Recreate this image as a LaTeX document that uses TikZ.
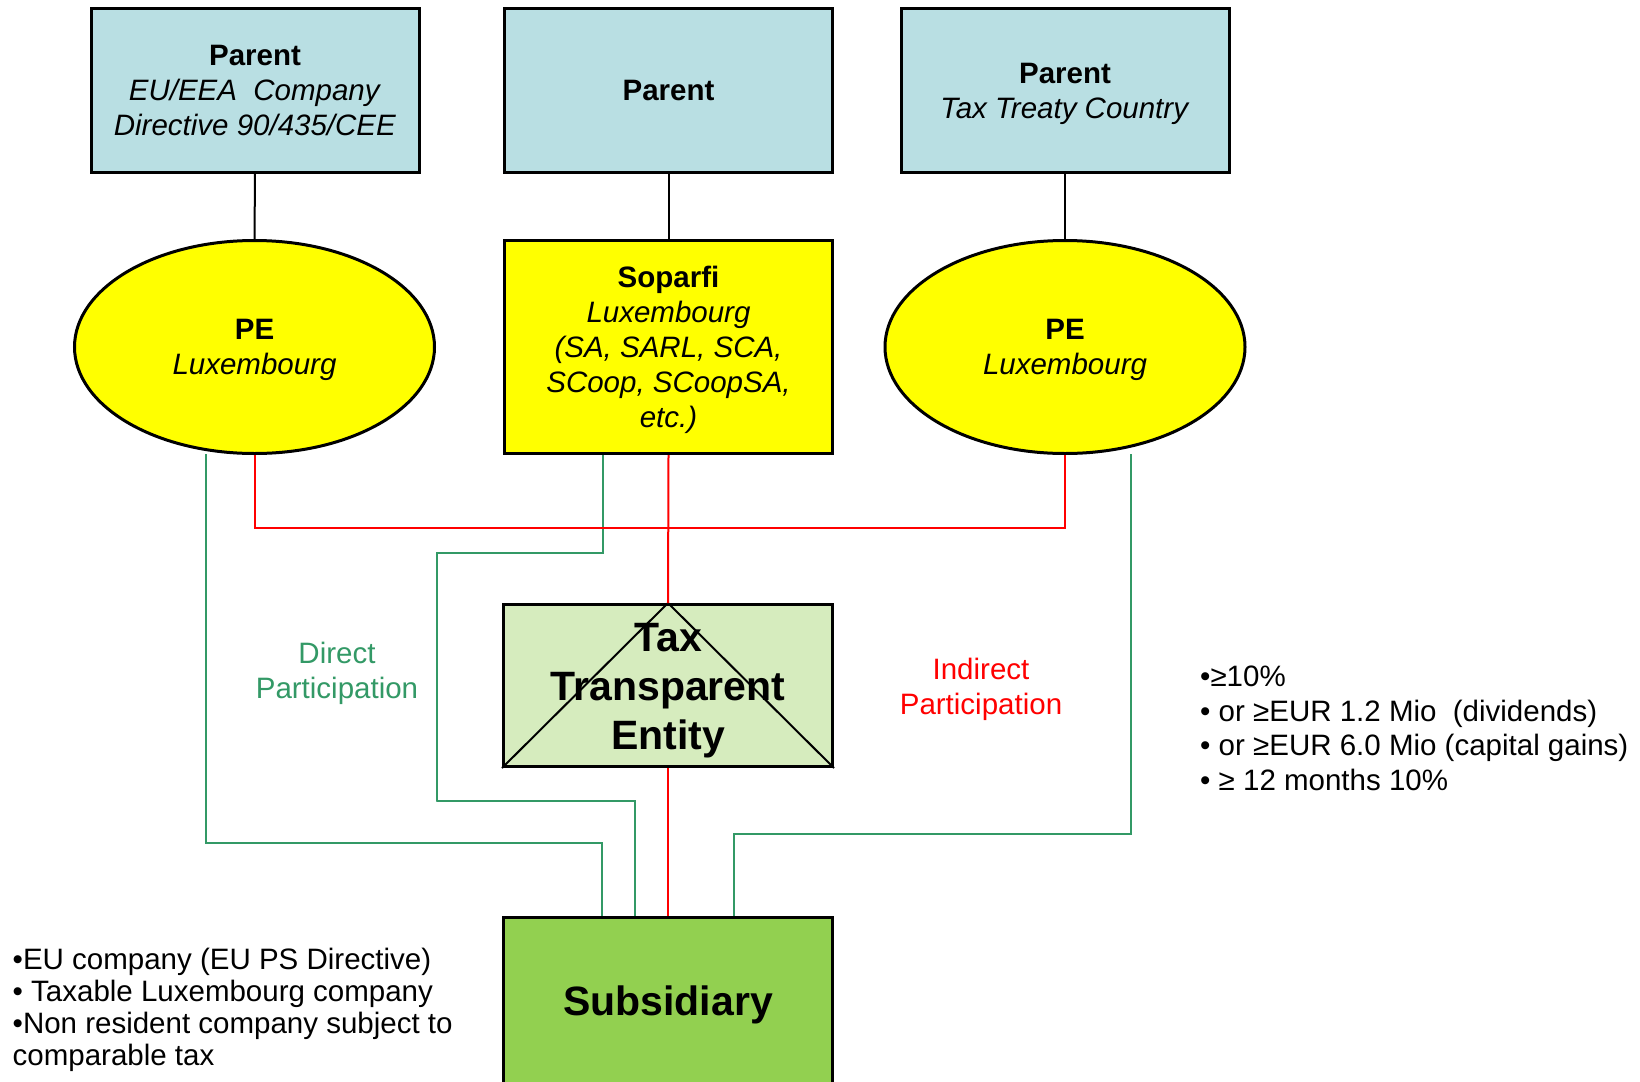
\documentclass[tikz,border=0pt]{standalone}
\usepackage{fontspec}
\setmainfont{Liberation Sans}
\usetikzlibrary{shapes.geometric,calc}

\definecolor{parentblue}{RGB}{185,223,227}
\definecolor{lux}{RGB}{255,255,0}
\definecolor{ttegreen}{RGB}{214,236,190}
\definecolor{subgreen}{RGB}{146,208,80}
\definecolor{directgreen}{RGB}{51,153,102}
\definecolor{indirectred}{RGB}{255,0,0}

\tikzset{
  txt/.style={font=\fontsize{29.5}{35}\selectfont, align=center},
  boxtxt/.style={txt, text depth=0pt},
  parentbox/.style={boxtxt, draw=black, line width=3pt, fill=parentblue,
    minimum width=328pt, minimum height=163pt, inner sep=0pt},
  soparfibox/.style={boxtxt, draw=black, line width=3pt, fill=lux,
    minimum width=328pt, minimum height=213pt, inner sep=0pt},
  peellipse/.style={boxtxt, ellipse, draw=black, line width=3pt, fill=lux,
    minimum width=360pt, minimum height=213pt, inner sep=0pt},
  ttebox/.style={draw=black, line width=3pt, fill=ttegreen,
    minimum width=329pt, minimum height=162pt, inner sep=0pt},
  subbox/.style={draw=black, line width=3pt, fill=subgreen,
    minimum width=329pt, minimum height=330pt, inner sep=0pt},
  bigtxt/.style={font=\fontsize{41}{49}\selectfont\bfseries, align=center},
  owner/.style={black, line width=2pt},
  indirect/.style={indirectred, line width=2pt},
  direct/.style={directgreen, line width=2pt},
  note/.style={font=\fontsize{29.5}{34.5}\selectfont, align=left, anchor=north west, inner sep=0pt},
}

\begin{document}
\begin{tikzpicture}[x=1pt, y=-1pt]
  \useasboundingbox (0,0) rectangle (1640,1081);
  \clip (0,0) rectangle (1640,1081);

  % Parents
  \node[parentbox] (p1) at (255,90.5) {\textbf{Parent}\\ \textit{EU/EEA\ \ Company}\\ \textit{Directive 90/435/CEE}};
  \node[parentbox] (p2) at (668.5,90.5) {\textbf{Parent}};
  \node[parentbox] (p3) at (1065,90.5) {\textbf{Parent}\\ \textit{Tax Treaty Country}};

  % Luxembourg entities
  \node[peellipse] (e1) at (254.5,347) {\textbf{PE}\\ \textit{Luxembourg}};
  \node[soparfibox] (sop) at (668.5,347) {\textbf{Soparfi}\\ \textit{Luxembourg}\\ \textit{(SA, SARL, SCA,}\\ \textit{SCoop, SCoopSA,}\\ \textit{etc.)}};
  \node[peellipse] (e2) at (1065,347) {\textbf{PE}\\ \textit{Luxembourg}};

  % Tax transparent entity
  \node[ttebox] (tte) at (668,685.5) {};
  \draw[line width=2pt] (tte.south west) -- (tte.north) -- (tte.south east);
  \node[bigtxt] (tteL) at ($(tte.center)+(0,5)$) {Tax\\ Transparent\\ Entity};

  % Subsidiary
  \node[subbox] (sub) at (668,1082) {};
  \node[bigtxt] (subL) at (668,1005) {Subsidiary};

  % Ownership links
  \draw[owner] (p1.south) -- (e1.north);
  \draw[owner] (p2.south) -- (sop.north);
  \draw[owner] (p3.south) -- (e2.north);

  % Direct participation (green)
  \coordinate (g1a) at ($(e1.south)+(-49,-1)$);
  \coordinate (g1b) at ($(sub.north)+(-66,0)$);
  \draw[direct] (g1a) |- ($(g1b)+(0,-73)$) -- (g1b);

  \coordinate (g2a) at ($(sop.south)+(-66,0)$);
  \coordinate (g2b) at ($(sub.north)+(-33,0)$);
  \draw[direct] (g2a) -- ($(g2a)+(0,98)$) -| ($(tte.west)+(-65,116)$) |- ($(g2b)+(0,-115)$) -- (g2b);

  \coordinate (g3a) at ($(e2.south)+(66,-1)$);
  \coordinate (g3b) at ($(sub.north)+(66,0)$);
  \draw[direct] (g3a) |- ($(g3b)+(0,-82)$) -- (g3b);

  % Indirect participation (red)
  \draw[indirect] (e1.south) |- ($(sop.south)+(0,73)$) -| (e2.south);
  \draw[indirect] (sop.south) -- (tte.north);
  \draw[indirect] (tte.south) -- (sub.north);

  % Labels
  \node[txt, text=directgreen] (dl) at (337,673) {Direct\\ Participation};
  \node[txt, text=indirectred] (il) at (981,689) {Indirect\\ Participation};

  % Notes
  \node[note] (cond) at (1200,666) {•≥10\%\\ • or ≥EUR 1.2 Mio\ \ (dividends)\\ • or ≥EUR 6.0 Mio (capital gains)\\ • ≥ 12 months 10\%};
  \node[note, font=\fontsize{29.5}{32}\selectfont] (elig) at (12.5,948) {•EU company (EU PS Directive)\\ • Taxable Luxembourg company\\ •Non resident company subject to\\ comparable tax};
\end{tikzpicture}
\end{document}
